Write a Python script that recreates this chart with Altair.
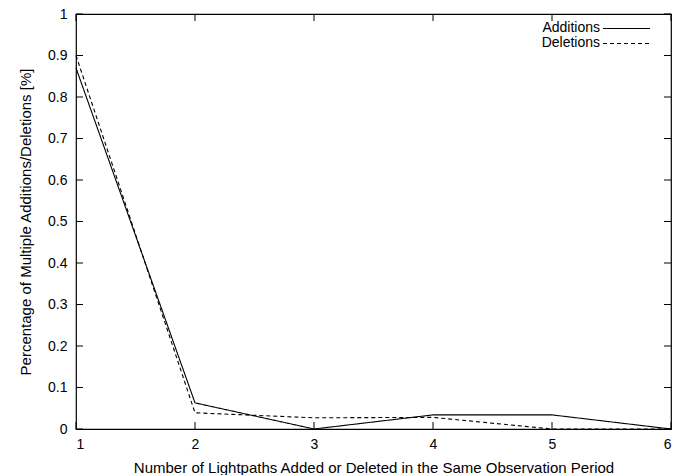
import altair as alt
import pandas as pd

# Number of lightpaths added/deleted in one observation period
counts = [1, 2, 3, 4, 5, 6]
additions = [0.870, 0.063, 0.000, 0.034, 0.034, 0.000]
deletions = [0.900, 0.039, 0.027, 0.028, 0.000, 0.000]

x_ticks = [1, 2, 3, 4, 5, 6]
y_ticks = [0, 0.1, 0.2, 0.3, 0.4, 0.5, 0.6, 0.7, 0.8, 0.9, 1]

W, H = 595, 415
FONT = "Liberation Sans"

df = pd.DataFrame(
    {"n": counts * 2,
     "value": additions + deletions,
     "series": ["Additions"] * len(counts) + ["Deletions"] * len(counts)}
)

xs = alt.Scale(domain=[1, 6], nice=False, zero=False)
ys = alt.Scale(domain=[0, 1], nice=False)

x_axis = alt.Axis(values=x_ticks, format="d", ticks=False, domain=False, grid=False,
                  labelPadding=8, titlePadding=9,
                  title="Number of Lightpaths Added or Deleted in the Same Observation Period")
y_axis = alt.Axis(values=y_ticks, format="~g", ticks=False, domain=False, grid=False,
                  labelPadding=9, titlePadding=14,
                  title="Percentage of Multiple Additions/Deletions [%]")

lines = alt.Chart(df).mark_line(color="black", strokeWidth=1.1).encode(
    x=alt.X("n:Q", scale=xs, axis=x_axis),
    y=alt.Y("value:Q", scale=ys, axis=y_axis),
    strokeDash=alt.StrokeDash(
        "series:N",
        scale=alt.Scale(domain=["Additions", "Deletions"], range=[[1, 0], [4, 3]]),
        legend=None,
    ),
    detail="series:N",
)

# inward ticks on all four sides of the frame
xt = pd.DataFrame({"t": x_ticks})
yt = pd.DataFrame({"t": y_ticks})
TK = 7
tick_bottom = alt.Chart(xt).mark_rule(color="black").encode(
    x=alt.X("t:Q", scale=xs), y=alt.value(H), y2=alt.value(H - TK))
tick_top = alt.Chart(xt).mark_rule(color="black").encode(
    x=alt.X("t:Q", scale=xs), y=alt.value(0), y2=alt.value(TK))
tick_left = alt.Chart(yt).mark_rule(color="black").encode(
    y=alt.Y("t:Q", scale=ys), x=alt.value(0), x2=alt.value(TK))
tick_right = alt.Chart(yt).mark_rule(color="black").encode(
    y=alt.Y("t:Q", scale=ys), x=alt.value(W), x2=alt.value(W - TK))

# key in the upper right corner: label followed by line sample
KEY_X, KEY_Y0, KEY_DY = 524, 14, 15
key_layers = []
for i, (name, dash) in enumerate([("Additions", [1, 0]), ("Deletions", [4, 3])]):
    row = pd.DataFrame({"series": [name]})
    yy = KEY_Y0 + i * KEY_DY
    key_layers.append(
        alt.Chart(row).mark_text(
            align="right", baseline="middle", font=FONT, fontSize=14, color="black"
        ).encode(text="series:N", x=alt.value(KEY_X), y=alt.value(yy))
    )
    key_layers.append(
        alt.Chart(row).mark_rule(color="black", strokeWidth=1, strokeDash=dash).encode(
            x=alt.value(KEY_X + 3), x2=alt.value(KEY_X + 50), y=alt.value(yy + 0.5))
    )

chart = alt.layer(
    lines, tick_bottom, tick_top, tick_left, tick_right, *key_layers
).properties(
    width=W, height=H,
    autosize=alt.AutoSizeParams(type="none"),
    padding={"left": 76, "top": 14, "right": 10, "bottom": 46},
    background="white",
).configure_view(
    stroke="black", strokeWidth=1.2
).configure_axis(
    labelFont=FONT, titleFont=FONT, labelFontSize=14, titleFontSize=15,
    labelColor="black", titleColor="black", titleFontWeight="normal",
)

chart.save("out.html", embed_options={"renderer": "svg", "actions": False})
